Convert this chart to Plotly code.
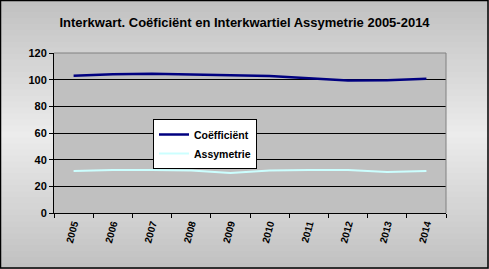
import plotly.graph_objects as go

years = ["2005", "2006", "2007", "2008", "2009", "2010", "2011", "2012", "2013", "2014"]
coefficient = [103.0, 104.0, 104.4, 103.7, 103.3, 102.7, 101.0, 99.3, 99.5, 100.6]
assymetrie = [31.5, 32.3, 32.3, 31.9, 30.0, 31.8, 32.3, 32.3, 30.8, 31.5]

FONT = "Liberation Sans, Arial, sans-serif"

W, H = 489, 269
ML, MR, MT, MB = 54, 43, 53, 56
PW, PH = W - ML - MR, H - MT - MB


def px_x(p):
    return (p - ML) / PW


def px_y(p):
    return (H - MB - p) / PH


fig = go.Figure()
fig.add_trace(go.Scatter(x=years, y=coefficient, mode="lines", name="Coëfficiënt",
                         line=dict(color="#000080", width=2.5)))
fig.add_trace(go.Scatter(x=years, y=assymetrie, mode="lines", name="Assymetrie",
                         line=dict(color="#ccffff", width=2)))

shapes = []
n = 45
for i in range(n):
    t = (i + 0.5) / n
    d = abs(t - 0.5) / 0.5
    v = int(round(236 - (236 - 192) * d))
    col = f"rgb({v},{v},{v})"
    y_top = H * i / n
    y_bot = H * (i + 1) / n + 1
    shapes.append(dict(type="rect", xref="paper", yref="paper",
                       x0=px_x(0), x1=px_x(W), y0=px_y(y_bot), y1=px_y(y_top),
                       fillcolor=col, line=dict(width=0), layer="below"))
shapes.append(dict(type="rect", xref="paper", yref="paper", x0=0, x1=1, y0=0, y1=1,
                   fillcolor="#c0c0c0", line=dict(width=0), layer="below"))
shapes.append(dict(type="line", xref="paper", yref="paper", x0=0, x1=1, y0=1, y1=1,
                   line=dict(color="#808080", width=1), layer="above"))
shapes.append(dict(type="line", xref="paper", yref="paper", x0=1, x1=1, y0=0, y1=1,
                   line=dict(color="#808080", width=1), layer="above"))
shapes.append(dict(type="rect", xref="paper", yref="paper",
                   x0=px_x(0.5), x1=px_x(W - 1), y0=px_y(H - 1), y1=px_y(0.5),
                   line=dict(color="black", width=1.5), layer="above"))

fig.update_layout(
    width=W, height=H,
    margin=dict(l=ML, r=MR, t=MT, b=MB),
    paper_bgcolor="#d0d0d0",
    plot_bgcolor="#c0c0c0",
    shapes=shapes,
    title=dict(text="<b>Interkwart. Coëficiënt en Interkwartiel Assymetrie 2005-2014</b>",
               x=0.5, xanchor="center", y=1 - 22 / H, yanchor="middle",
               font=dict(family=FONT, size=13, color="black")),
    showlegend=True,
    legend=dict(x=px_x(153), y=px_y(119), xanchor="left", yanchor="top",
                bgcolor="white", bordercolor="black", borderwidth=1,
                font=dict(family=FONT, size=10.5, color="black", weight="bold"),
                itemwidth=30, tracegroupgap=0, traceorder="normal"),
    xaxis=dict(type="category", tickson="boundaries", range=[-0.5, 9.5],
               showgrid=False, showline=True, linecolor="black", linewidth=1,
               ticks="outside", ticklen=4, tickcolor="black", tickangle=-75,
               tickfont=dict(family=FONT, size=10, color="black", weight="bold"),
               zeroline=False),
    yaxis=dict(range=[0, 120], dtick=20, tick0=0, showgrid=True, gridcolor="black",
               gridwidth=1, showline=True, linecolor="black", linewidth=1,
               ticks="outside", ticklen=4, tickcolor="black", zeroline=False,
               tickfont=dict(family=FONT, size=11, color="black", weight="bold")),
)

fig.write_html("out.html")
